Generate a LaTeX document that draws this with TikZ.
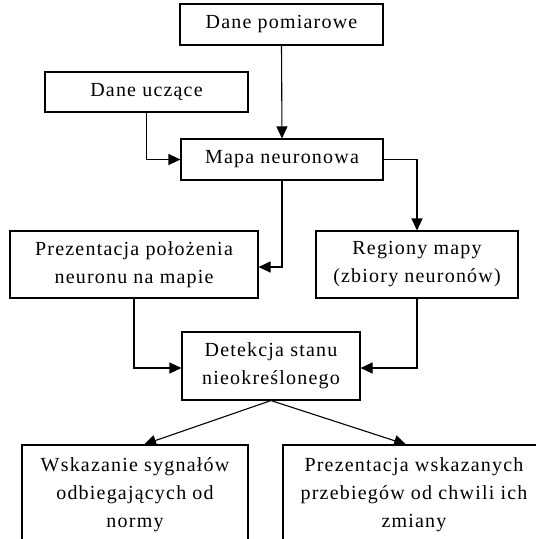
\documentclass[tikz,border=0pt]{standalone}
\usepackage{fontspec}
\setmainfont{Liberation Serif}[LetterSpace=6]
\usetikzlibrary{arrows.meta,calc}
\begin{document}
\begin{tikzpicture}[x=1pt,y=-1pt,
  box/.style={draw,line width=1.1pt,rectangle,inner sep=0pt,align=center,font=\fontsize{20}{28}\selectfont},
  conn/.style={line width=1.1pt,-{Triangle[length=12pt,width=11pt]}}]
\useasboundingbox (0,0) rectangle (536,539);
\clip (0,0) rectangle (536,539);
\node[box,minimum width=203pt,minimum height=41pt] (pom) at (281.5,24.5) {Dane pomiarowe};
\node[box,minimum width=203pt,minimum height=40pt] (ucz) at (146.5,92) {Dane uczące};
\node[box,minimum width=202pt,minimum height=41pt] (mapa) at (282,159.5) {Mapa neuronowa};
\node[box,minimum width=248pt,minimum height=67pt] (prez) at (134,264.5) {Prezentacja położenia\\neuronu na mapie};
\node[box,minimum width=202pt,minimum height=67pt] (reg) at (417,264.5) {Regiony mapy\\(zbiory neuronów)};
\node[box,minimum width=178pt,minimum height=68pt] (det) at (271,366) {Detekcja stanu\\nieokreślonego};
\node[box,minimum width=226pt,minimum height=100pt] (wsk) at (135,495) {Wskazanie sygnałów\\odbiegających od\\normy};
\node[box,minimum width=262pt,minimum height=100pt] (prw) at (414,495) {Prezentacja wskazanych\\przebiegów od chwili ich\\zmiany};
\draw[conn] (pom.south) -- (mapa.north);
\draw[conn] (ucz.south) |- (mapa.west);
\draw[conn] (mapa.east) -| (reg.north);
\draw[conn] (mapa.south) |- ($(prez.east)+(0,2.5)$);
\draw[conn] (prez.south) |- ($(det.west)+(0,2)$);
\draw[conn] (reg.south) |- ($(det.east)+(0,2)$);
\draw[conn] (det.south) -- ($(wsk.north west)!0.54!(wsk.north east)$);
\draw[conn] (det.south) -- ($(prw.north west)!0.47!(prw.north east)$);
\end{tikzpicture}
\end{document}
